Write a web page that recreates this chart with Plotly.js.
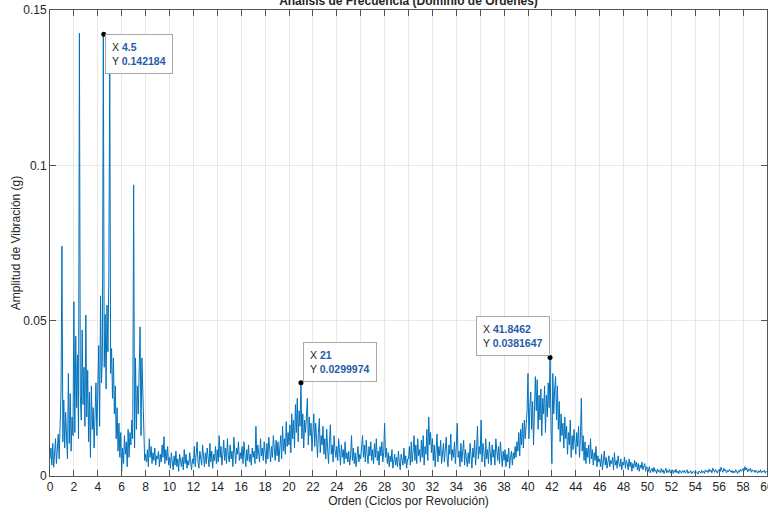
<!DOCTYPE html>
<html>
<head>
<meta charset="utf-8">
<script src="https://cdn.plot.ly/plotly-3.0.1.min.js"></script>
<style>
  html, body { margin: 0; padding: 0; background: #ffffff; }
  #chart { width: 768px; height: 510px; }
</style>
</head>
<body>
<div id="chart"></div>
<script>
// Amplitude samples (units of 1e-4 g), 13 samples per order unit
const ampOrders0to8 = [
  55,90,35,105,28,70,120,40,95,135,55,150,270,
  740,110,245,90,205,150,55,330,105,265,80,190,130,
  561,140,450,220,390,120,1425,260,180,470,230,350,160,
  518,190,340,110,270,60,290,150,220,90,180,300,130,
  250,420,160,580,300,390,1422,350,520,280,550,400,637,
  1330,330,410,250,380,200,290,120,220,80,170,60,140,
  15,90,40,130,70,110,30,150,60,140,100,180,120,
  937,90,380,150,290,200,360,480,130,380,270,110,50
];
const ampOrders8to24 = [
  70,45,85,30,120,60,95,40,75,50,90,35,65,
  55,80,30,70,45,100,60,127,40,85,50,95,35,
  60,25,75,40,20,65,35,80,30,55,15,70,45,
  30,60,20,85,40,70,25,50,35,75,45,20,55,
  40,95,30,70,110,45,25,80,50,35,100,60,30,
  75,40,90,55,30,105,45,80,25,70,50,95,40,
  85,45,130,60,95,35,70,115,50,90,40,120,65,
  45,100,55,80,30,125,60,40,90,70,110,50,75,
  55,95,40,110,65,30,85,50,100,45,70,35,90,
  60,80,40,160,55,100,70,45,120,65,90,50,110,
  70,40,105,55,125,80,45,95,60,130,75,50,115,
  65,110,45,90,130,55,160,80,120,70,175,95,140,
  100,165,75,200,120,180,90,230,140,250,110,210,160,
  300,120,200,90,180,140,220,250,100,190,130,170,80,
  150,200,95,170,120,60,140,185,75,130,100,160,70,
  120,55,150,90,40,110,165,70,100,45,130,85,60
];
const ampOrders24to40 = [
  95,50,120,70,35,100,60,85,40,110,55,75,45,
  80,35,65,130,50,90,40,75,30,60,95,45,70,
  55,90,130,60,100,45,115,70,40,95,65,110,50,
  85,40,105,60,120,50,80,35,95,65,110,45,75,
  170,60,90,40,75,30,65,45,85,25,55,70,35,
  60,30,80,45,20,70,50,35,90,40,65,25,55,
  55,95,35,110,45,80,130,50,100,40,120,65,85,
  45,115,60,130,35,95,70,150,50,190,100,140,75,
  120,50,100,30,85,135,45,95,65,115,40,80,105,
  45,90,125,55,30,100,70,135,50,85,60,110,40,
  95,170,60,80,30,105,45,70,115,35,85,55,30,
  75,40,105,50,25,90,60,115,35,80,160,55,95,
  70,180,45,105,80,30,120,55,85,40,110,65,35,
  100,60,85,35,120,70,50,95,40,110,65,30,80,
  50,85,30,70,45,90,25,60,80,35,75,55,95,
  60,110,80,140,65,150,100,170,90,180,120,160,210
];
const ampOrders40to60 = [
  330,120,220,270,150,240,100,180,320,210,310,150,260,
  180,280,130,250,200,290,140,260,190,300,220,382,160,
  40,330,200,280,320,180,290,150,240,110,200,130,170,
  90,190,120,160,70,140,100,180,60,130,85,150,110,
  70,140,95,160,60,120,250,80,130,50,110,40,90,
  60,100,40,120,55,85,35,75,50,95,30,65,45,
  55,30,70,20,50,80,35,60,25,45,65,30,50,
  40,60,20,75,35,50,25,65,40,30,55,20,45,
  35,60,25,50,40,20,55,30,45,15,40,25,50,
  30,45,20,40,15,35,25,45,20,30,40,15,30,
  25,15,30,10,20,25,12,28,15,20,8,22,14,
  18,10,24,12,20,8,16,25,10,18,12,22,9,
  15,20,8,18,12,22,10,16,7,19,13,9,17,
  12,18,9,15,20,8,14,11,17,7,13,16,10,
  8,14,10,6,16,12,9,18,11,15,8,20,13,
  17,11,22,14,19,10,25,16,12,21,15,9,18,
  22,14,28,18,12,25,16,20,10,18,13,21,15,
  12,18,9,16,11,20,14,8,17,12,22,15,19,
  24,16,30,19,26,13,22,17,25,12,20,15,18,
  11,19,14,9,17,12,20,10,16,13,18,9,15,
  12
];
const samplesPerOrder = 13;
const ampScale = 1e-4;

// Data tips
const tipX = [4.5, 21, 41.8462];
const tipY = [0.142184, 0.0299974, 0.0381647];

// Axis ticks
const xTickVals = [0,2,4,6,8,10,12,14,16,18,20,22,24,26,28,30,32,34,36,38,40,42,44,46,48,50,52,54,56,58,60];
const yTickVals = [0, 0.05, 0.1, 0.15];
const yTickText = ['0', '0.05', '0.1', '0.15'];

const titleText = 'Análisis de Frecuencia (Dominio de Órdenes)';
const xTitle = 'Orden (Ciclos por Revolución)';
const yTitle = 'Amplitud de Vibración (g)';

const amp = [].concat(ampOrders0to8, ampOrders8to24, ampOrders24to40, ampOrders40to60).map(v => v * ampScale);
const orders = amp.map((_, i) => i / samplesPerOrder);

const FONT = 'Liberation Sans, Arial, Helvetica, sans-serif';
const AX = '#262626';
const BLUE = '#0072BD';
const VAL = '#1f5da8';

const traces = [
  {
    x: orders, y: amp, type: 'scatter', mode: 'lines',
    line: { color: BLUE, width: 1 }, hoverinfo: 'skip', showlegend: false
  },
  {
    x: tipX, y: tipY, type: 'scatter', mode: 'markers',
    marker: { color: '#000000', size: 5 }, hoverinfo: 'skip', showlegend: false
  }
];

const tipAnchors = [
  { xanchor: 'left', yanchor: 'top', xshift: 1, yshift: 0 },
  { xanchor: 'left', yanchor: 'bottom', xshift: 2, yshift: 1 },
  { xanchor: 'right', yanchor: 'bottom', xshift: 0, yshift: 1 }
];

const annotations = tipX.map((xv, i) => Object.assign({
  x: xv, y: tipY[i], xref: 'x', yref: 'y',
  text: 'X <span style="color:' + VAL + '"><b>' + String(xv) + '</b></span><br>Y <span style="color:' + VAL + '"><b>' + String(tipY[i]) + '</b></span>',
  showarrow: false, align: 'left',
  font: { family: FONT, size: 10.5, color: AX },
  bgcolor: 'rgba(255,255,255,0.96)', bordercolor: '#a8a8a8', borderwidth: 1, borderpad: 6
}, tipAnchors[i]));

const layout = {
  width: 768, height: 510,
  margin: { l: 50, r: 1, t: 10, b: 34 },
  paper_bgcolor: '#ffffff', plot_bgcolor: '#ffffff',
  font: { family: FONT, size: 12, color: AX },
  title: {
    text: '<b>' + titleText + '</b>',
    font: { family: FONT, size: 12, color: AX },
    xref: 'paper', x: 0.5, xanchor: 'center',
    yref: 'container', y: 1 - 5 / 510, yanchor: 'bottom'
  },
  xaxis: {
    range: [0, 60], tickvals: xTickVals, ticks: 'inside', ticklen: 6, tickcolor: '#555555',
    showline: true, linecolor: '#555555', linewidth: 1, mirror: 'ticks',
    showgrid: true, gridcolor: '#e8e8e8', gridwidth: 1, zeroline: false,
    ticklabeloverflow: 'allow',
    tickfont: { family: FONT, size: 12, color: AX },
    title: { text: xTitle, font: { family: FONT, size: 12, color: AX }, standoff: 3 }
  },
  yaxis: {
    range: [0, 0.15], tickvals: yTickVals, ticktext: yTickText, ticks: 'inside', ticklen: 6, tickcolor: '#555555',
    showline: true, linecolor: '#555555', linewidth: 1, mirror: 'ticks',
    showgrid: true, gridcolor: '#e8e8e8', gridwidth: 1, zeroline: false,
    tickfont: { family: FONT, size: 12, color: AX },
    title: { text: yTitle, font: { family: FONT, size: 12, color: AX }, standoff: 0 }
  },
  annotations: annotations,
  hovermode: false
};

Plotly.newPlot('chart', traces, layout, { staticPlot: true, displayModeBar: false });
</script>
</body>
</html>
